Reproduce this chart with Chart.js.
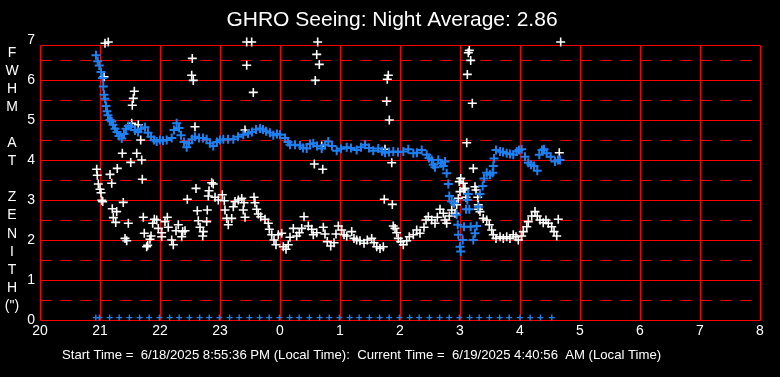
<!DOCTYPE html>
<html>
<head>
<meta charset="utf-8">
<script src="https://cdn.jsdelivr.net/npm/chart.js@4/dist/chart.umd.min.js"></script>
<style>
  html, body { margin: 0; padding: 0; background: #000; }
  canvas { display: block; }
</style>
</head>
<body>
<canvas id="seeingChart" width="780" height="377"></canvas>
<script>
// hours after 20:00 on 6/18 are written as 20..32 (24 = midnight)
const hourTicks = [20, 21, 22, 23, 0, 1, 2, 3, 4, 5, 6, 7, 8];
const fwhmTicks = [0, 1, 2, 3, 4, 5, 6, 7];

// blue series: FWHM at zenith
const blueTimes = [20.933, 20.962, 20.988, 21.017, 21.042, 21.055, 21.067, 21.083, 21.1, 21.117,
  21.133, 21.167, 21.195, 21.217, 21.25, 21.283, 21.317, 21.362, 21.4, 21.433,
  21.472, 21.517, 21.583, 21.633, 21.683, 21.75, 21.8, 21.85, 21.9, 21.945,
  22.0, 22.05, 22.112, 22.195, 22.233, 22.278, 22.317, 22.35, 22.4, 22.445,
  22.483, 22.533, 22.583, 22.65, 22.717, 22.778, 22.833, 22.888, 22.95, 23.0,
  23.055, 23.133, 23.222, 23.3, 23.388, 23.467, 23.533, 23.6, 23.667, 23.717,
  23.767, 23.833, 23.888, 23.95, 24.0, 24.083, 24.133, 24.167, 24.25, 24.333,
  24.383, 24.445, 24.5, 24.555, 24.617, 24.695, 24.75, 24.805, 24.867, 24.945,
  25.017, 25.112, 25.183, 25.278, 25.35, 25.417, 25.483, 25.555, 25.638, 25.7,
  25.75, 25.817, 25.888, 25.967, 26.055, 26.138, 26.222, 26.283, 26.362, 26.445,
  26.483, 26.528, 26.555, 26.583, 26.638, 26.683, 26.722, 26.75, 26.778, 26.805,
  26.822, 26.862, 26.9, 26.945, 26.962, 26.972, 27.0, 27.012, 27.045, 27.067,
  27.1, 27.122, 27.138, 27.155, 27.178, 27.222, 27.25, 27.278, 27.305, 27.333,
  27.378, 27.4, 27.445, 27.5, 27.545, 27.555, 27.567, 27.6, 27.667, 27.717,
  27.778, 27.833, 27.888, 27.945, 27.983, 28.028, 28.083, 28.138, 28.183, 28.233,
  28.288, 28.322, 28.367, 28.4, 28.445, 28.512, 28.583, 28.633, 28.667];
const blueValues = [6.62, 6.47, 6.36, 6.2, 6.05, 5.84, 5.63, 5.53, 5.35, 5.22,
  5.12, 5.0, 4.96, 4.88, 4.78, 4.7, 4.6, 4.54, 4.65, 4.78,
  4.85, 4.83, 4.75, 4.7, 4.78, 4.82, 4.68, 4.58, 4.5, 4.46,
  4.5, 4.48, 4.5, 4.55, 4.75, 4.92, 4.8, 4.62, 4.45, 4.32,
  4.42, 4.52, 4.58, 4.55, 4.55, 4.52, 4.42, 4.35, 4.45, 4.5,
  4.52, 4.52, 4.52, 4.58, 4.63, 4.66, 4.7, 4.76, 4.79, 4.76,
  4.72, 4.68, 4.62, 4.65, 4.63, 4.55, 4.45, 4.38, 4.38, 4.36,
  4.3, 4.29, 4.4, 4.42, 4.35, 4.29, 4.38, 4.46, 4.35, 4.23,
  4.28, 4.32, 4.3, 4.25, 4.32, 4.38, 4.3, 4.23, 4.29, 4.22,
  4.18, 4.2, 4.21, 4.2, 4.21, 4.27, 4.17, 4.18, 4.25, 4.13,
  4.05, 4.0, 3.88, 3.82, 4.0, 3.92, 3.85, 3.96, 3.67, 3.4,
  3.1, 2.96, 2.92, 2.63, 2.38, 2.13, 1.83, 1.71, 2.0, 2.33,
  2.77, 3.0, 3.15, 2.77, 2.33, 2.0, 2.17, 2.35, 2.83, 3.15,
  3.35, 3.54, 3.68, 3.63, 3.68, 3.85, 4.04, 4.25, 4.21, 4.2,
  4.17, 4.15, 4.13, 4.21, 4.25, 4.27, 4.08, 3.93, 3.88, 3.85,
  3.73, 4.13, 4.25, 4.27, 4.17, 4.08, 3.96, 4.0, 4.0];

// white series
const whiteTimes = [21.083, 21.138, 21.067, 21.572, 21.555, 21.538, 22.538, 22.528, 22.555, 23.445,
  23.528, 23.445, 23.555, 24.628, 24.612, 24.655, 24.588, 25.805, 25.788, 25.778,
  25.822, 27.155, 27.138, 27.178, 27.122, 27.205, 28.678, 21.528, 21.638, 21.583,
  21.678, 22.583, 23.417, 24.695, 24.572, 24.712, 25.75, 25.862, 25.738, 25.872,
  27.112, 27.222, 28.655, 28.638, 20.945, 20.955, 20.972, 21.0, 21.017, 21.028,
  21.045, 21.167, 21.195, 21.288, 21.205, 21.278, 21.222, 21.262, 21.372, 21.512,
  21.612, 21.695, 21.388, 21.705, 21.472, 21.417, 21.445, 21.722, 21.738, 21.778,
  21.795, 21.85, 21.833, 21.878, 21.905, 21.945, 21.972, 22.028, 22.028, 22.083,
  22.122, 22.138, 22.195, 22.222, 22.267, 22.305, 22.362, 22.378, 22.417, 22.455,
  22.6, 22.622, 22.638, 22.667, 22.712, 22.722, 22.778, 22.788, 22.805, 22.817,
  22.862, 22.888, 22.917, 22.972, 23.038, 23.072, 23.083, 23.112, 23.138, 23.195,
  23.222, 23.25, 23.305, 23.362, 23.4, 23.388, 23.417, 23.567, 23.583, 23.612,
  23.638, 23.678, 23.75, 23.805, 23.822, 23.862, 23.9, 23.933, 23.972, 24.028,
  24.055, 24.1, 24.138, 24.167, 24.222, 24.278, 24.322, 24.362, 24.4, 24.472,
  24.528, 24.555, 24.612, 24.722, 24.75, 24.788, 24.845, 24.9, 24.933, 24.972,
  25.028, 25.067, 25.112, 25.195, 25.233, 25.278, 25.333, 25.4, 25.455, 25.528,
  25.567, 25.612, 25.667, 25.722, 25.888, 25.917, 25.945, 25.972, 26.012, 26.055,
  26.112, 26.155, 26.222, 26.278, 26.333, 26.4, 26.433, 26.472, 26.528, 26.583,
  26.622, 26.667, 26.722, 26.75, 26.778, 26.822, 26.862, 26.917, 26.945, 26.972,
  27.0, 26.988, 27.012, 27.055, 27.067, 27.1, 27.083, 27.25, 27.267, 27.295,
  27.305, 27.31, 27.333, 27.388, 27.445, 27.488, 27.528, 27.555, 27.6, 27.667,
  27.722, 27.778, 27.833, 27.888, 27.933, 27.972, 28.028, 28.055, 28.112, 28.138,
  28.195, 28.25, 28.288, 28.333, 28.388, 28.433, 28.472, 28.528, 28.567, 28.612];
const whiteValues = [6.92, 6.95, 6.08, 5.72, 5.54, 5.37, 6.54, 6.12, 5.99, 6.95,
  6.95, 6.37, 5.69, 6.95, 6.64, 6.39, 5.99, 6.12, 6.02, 5.47,
  5.0, 6.74, 6.68, 6.49, 6.14, 5.42, 6.95, 4.92, 4.88, 4.75,
  4.5, 4.83, 4.75, 4.35, 3.9, 3.77, 4.27, 3.93, 3.02, 2.89,
  4.43, 3.79, 4.18, 2.52, 3.77, 3.62, 3.4, 3.27, 3.18, 2.99,
  2.96, 3.64, 3.42, 3.79, 2.78, 2.71, 2.56, 2.44, 4.17, 3.94,
  4.17, 4.0, 2.94, 3.52, 2.42, 2.04, 1.98, 2.57, 2.17, 1.83,
  1.87, 2.1, 2.02, 2.42, 2.52, 2.5, 2.29, 2.18, 2.08, 2.46,
  2.57, 2.32, 2.0, 1.88, 2.23, 2.38, 2.08, 2.21, 2.23, 3.02,
  3.29, 2.73, 2.48, 2.32, 2.1, 2.21, 2.46, 2.75, 3.1, 3.23,
  3.43, 3.4, 3.07, 3.0, 3.13, 2.98, 2.75, 2.54, 2.38, 2.54,
  2.83, 2.96, 3.0, 3.04, 2.93, 2.75, 2.57, 3.07, 2.93, 2.77,
  2.65, 2.58, 2.52, 2.42, 2.27, 2.13, 2.0, 1.88, 2.13, 2.17,
  1.83, 1.77, 1.88, 2.07, 2.29, 2.1, 2.18, 2.29, 2.58, 2.35,
  2.27, 2.13, 2.18, 2.32, 2.15, 1.96, 1.85, 1.93, 2.15, 2.35,
  2.25, 2.13, 2.1, 2.21, 2.04, 2.0, 1.98, 1.92, 2.0, 2.04,
  1.93, 1.83, 1.79, 1.83, 2.35, 2.29, 2.18, 2.04, 1.96, 1.88,
  1.98, 2.08, 2.13, 2.25, 2.17, 2.32, 2.5, 2.58, 2.5, 2.42,
  2.57, 2.77, 2.67, 2.5, 2.42, 2.6, 2.75, 2.67, 2.88, 3.04,
  3.21, 3.46, 3.54, 3.42, 3.25, 3.07, 3.29, 3.33, 3.25, 3.07,
  2.88, 2.77, 2.71, 2.54, 2.5, 2.38, 2.25, 2.13, 2.04, 2.08,
  2.04, 2.08, 2.04, 2.13, 2.08, 2.0, 2.1, 2.21, 2.33, 2.46,
  2.6, 2.71, 2.6, 2.5, 2.43, 2.5, 2.42, 2.33, 2.21, 2.1];

// blue marks just above zero (sample times)
const floorTimes = [20.93, 20.99, 21.16, 21.32, 21.49, 21.66, 21.82, 21.99, 22.16, 22.32,
  22.49, 22.66, 22.82, 22.99, 23.16, 23.32, 23.49, 23.66, 23.82, 23.99,
  24.16, 24.32, 24.49, 24.66, 24.82, 24.99, 25.16, 25.32, 25.49, 25.66,
  25.82, 25.99, 26.16, 26.32, 26.49, 26.66, 26.82, 26.99, 27.16, 27.32,
  27.49, 27.66, 27.82, 28.0, 28.17, 28.34, 28.53];
const floorValues = [0.06, 0.06, 0.06, 0.06, 0.06, 0.06, 0.06, 0.06, 0.06, 0.06,
  0.06, 0.06, 0.06, 0.06, 0.06, 0.06, 0.06, 0.06, 0.06, 0.06,
  0.06, 0.06, 0.06, 0.06, 0.06, 0.06, 0.06, 0.06, 0.06, 0.06,
  0.06, 0.06, 0.06, 0.06, 0.06, 0.06, 0.06, 0.06, 0.06, 0.06,
  0.06, 0.06, 0.06, 0.06, 0.06, 0.06, 0.06];

const titleText = 'GHRO Seeing: Night Average: 2.86';
const yLetters = ['F', 'W', 'H', 'M', '', 'A', 'T', '', 'Z', 'E', 'N', 'I', 'T', 'H', '(")'];
const footerText = 'Start Time =  6/18/2025 8:55:36 PM (Local Time):  Current Time =  6/19/2025 4:40:56  AM (Local Time)';

const FONT = "'Liberation Sans', Arial, sans-serif";
const BLUE = '#1e80f0';
const RED = '#ff0000';

function pts(xs, ys) {
  return xs.map((x, i) => ({ x: x, y: ys[i] }));
}

// red grid: solid on the hour / whole units, dashed on the halves
const redGrid = {
  id: 'redGrid',
  beforeDatasetsDraw(chart) {
    const ctx = chart.ctx;
    const x = chart.scales.x, y = chart.scales.y;
    const px = v => Math.round(x.getPixelForValue(v)) + 0.5;
    const py = v => Math.round(y.getPixelForValue(v)) + 0.5;
    const left = px(20), right = px(32), top = py(6.875), bottom = py(0);
    ctx.save();
    ctx.strokeStyle = RED;
    ctx.lineWidth = 1;
    ctx.beginPath();
    for (let h = 20; h <= 32; h++) {
      ctx.moveTo(px(h), top);
      ctx.lineTo(px(h), bottom);
    }
    for (let v = 0; v <= 6; v++) {
      ctx.moveTo(left, py(v));
      ctx.lineTo(right, py(v));
    }
    ctx.moveTo(left, top);
    ctx.lineTo(right, top);
    ctx.stroke();
    ctx.setLineDash([11, 9]);
    ctx.beginPath();
    for (let v = 0.5; v < 7; v += 1) {
      ctx.moveTo(left, py(v));
      ctx.lineTo(right, py(v));
    }
    ctx.stroke();
    ctx.restore();
  },
  afterDraw(chart) {
    const ctx = chart.ctx;
    ctx.save();
    ctx.fillStyle = '#ffffff';
    ctx.textAlign = 'center';
    ctx.textBaseline = 'middle';
    ctx.font = '21px ' + FONT;
    ctx.fillText(titleText, 392, 20);
    ctx.font = '14px ' + FONT;
    yLetters.forEach((c, i) => ctx.fillText(c, 12, 53 + i * 18.07));
    ctx.font = '13.15px ' + FONT;
    ctx.textAlign = 'left';
    ctx.fillText(footerText, 62, 355);
    ctx.restore();
  }
};

const canvas = document.getElementById('seeingChart');

new Chart(canvas, {
  type: 'scatter',
  data: {
    datasets: [
      {
        label: 'FWHM',
        data: pts(blueTimes, blueValues),
        pointStyle: 'cross',
        pointRadius: 4.5,
        borderColor: BLUE,
        backgroundColor: BLUE,
        borderWidth: 2,
        clip: false
      },
      {
        label: 'samples',
        data: pts(floorTimes, floorValues),
        pointStyle: 'cross',
        pointRadius: 3,
        borderColor: BLUE,
        backgroundColor: BLUE,
        borderWidth: 1.4,
        clip: false
      },
      {
        label: 'white',
        data: pts(whiteTimes, whiteValues),
        pointStyle: 'cross',
        pointRadius: 4.5,
        borderColor: '#ffffff',
        backgroundColor: '#ffffff',
        borderWidth: 1.6,
        clip: false
      }
    ]
  },
  options: {
    responsive: false,
    animation: false,
    devicePixelRatio: 1,
    layout: { padding: { left: 0, right: 20, top: 40, bottom: 0 } },
    plugins: {
      legend: { display: false },
      tooltip: { enabled: false },
      title: { display: false }
    },
    scales: {
      x: {
        type: 'linear',
        min: 20,
        max: 32,
        afterFit(scale) { scale.height = 57; },
        afterBuildTicks(scale) {
          scale.ticks = hourTicks.map((h, i) => ({ value: 20 + i }));
        },
        grid: { display: false, drawTicks: false },
        border: { display: false },
        ticks: {
          color: '#ffffff',
          font: { family: FONT, size: 14 },
          padding: 3,
          maxRotation: 0,
          autoSkip: false,
          callback: (v, i) => hourTicks[i]
        }
      },
      y: {
        min: 0,
        max: 7,
        afterFit(scale) { scale.width = 40; },
        afterBuildTicks(scale) {
          scale.ticks = fwhmTicks.map(v => ({ value: v }));
        },
        grid: { display: false, drawTicks: false },
        border: { display: false },
        ticks: {
          color: '#ffffff',
          font: { family: FONT, size: 14 },
          padding: 5
        }
      }
    }
  },
  plugins: [redGrid]
});
</script>
</body>
</html>
